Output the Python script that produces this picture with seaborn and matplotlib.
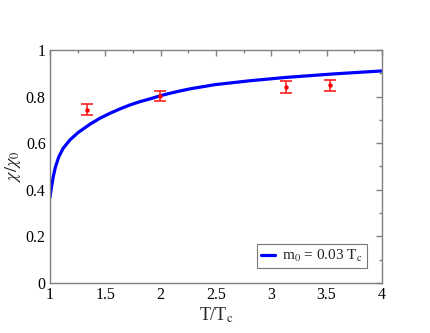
import matplotlib
matplotlib.use("Agg")
import matplotlib.pyplot as plt
import matplotlib.ticker as mticker
import seaborn as sns
import pandas as pd

# curve
curve_t = [1.0, 1.015, 1.030, 1.051, 1.081, 1.120, 1.181, 1.256, 1.361,
           1.452, 1.542, 1.633, 1.723, 1.813, 1.904, 1.994, 2.084, 2.175, 2.265,
           2.49, 2.81, 3.13, 3.557, 4.0]
curve_chi = [0.366, 0.413, 0.456, 0.499, 0.542, 0.578, 0.614, 0.646, 0.681,
             0.707, 0.728, 0.747, 0.764, 0.778, 0.790, 0.803, 0.814, 0.824, 0.833,
             0.851, 0.868, 0.882, 0.897, 0.910]

# lattice points with error bars
pts_t = [1.331, 1.997, 3.133, 3.53]
pts_chi = [0.744, 0.802, 0.841, 0.848]
pts_err = [0.022, 0.023, 0.026, 0.025]

legend_label = r"m$_0$ = 0.03 T$_\mathrm{c}$"

sns.set_style("white")
plt.rcParams["font.family"] = ["Liberation Serif", "DejaVu Serif"]
plt.rcParams["mathtext.fontset"] = "stix"

fig = plt.figure(figsize=(4.3, 3.33), dpi=100)
ax = fig.add_axes([0.116, 0.150, 0.772, 0.700])

df = pd.DataFrame({"t": curve_t, "chi": curve_chi})
sns.lineplot(data=df, x="t", y="chi", color="#0000ff", lw=2.3, ax=ax,
             label=legend_label, sort=True)

ax.errorbar(pts_t, pts_chi, yerr=pts_err, fmt="o", ms=2.2, color="#ff0000",
            ecolor="#ff2020", elinewidth=1.2, capsize=4, capthick=1.2, zorder=3)

ax.set_xlim(1, 4)
ax.set_ylim(0, 1)
ax.xaxis.set_major_locator(mticker.MultipleLocator(0.5))
ax.xaxis.set_minor_locator(mticker.MultipleLocator(0.25))
ax.yaxis.set_major_locator(mticker.MultipleLocator(0.2))
ax.yaxis.set_minor_locator(mticker.MultipleLocator(0.1))
fmt = mticker.FuncFormatter(lambda v, p: f"{v:g}")
ax.xaxis.set_major_formatter(fmt)
ax.yaxis.set_major_formatter(fmt)

grey = "#808080"
for s in ax.spines.values():
    s.set_color(grey)
    s.set_linewidth(1.0)
ax.tick_params(which="both", direction="in", top=True, right=True,
               color=grey, width=1.0, labelsize=11.5, labelcolor="black")
ax.tick_params(which="major", length=4.5, pad=3)
ax.tick_params(which="minor", length=2.5)

ax.set_xlabel(r"T/T$_\mathrm{c}$", fontsize=13, labelpad=2)
ax.set_ylabel(r"$\chi/\chi_0$", fontsize=13, labelpad=2)

leg = ax.legend(loc="lower right", fontsize=11, frameon=True, fancybox=False,
                handlelength=0.9, handletextpad=0.5, borderpad=0.25,
                borderaxespad=0, bbox_to_anchor=(0.955, 0.064))
leg.get_frame().set_edgecolor("#555555")
leg.get_frame().set_linewidth(0.8)

fig.savefig("out.png", dpi=100)
